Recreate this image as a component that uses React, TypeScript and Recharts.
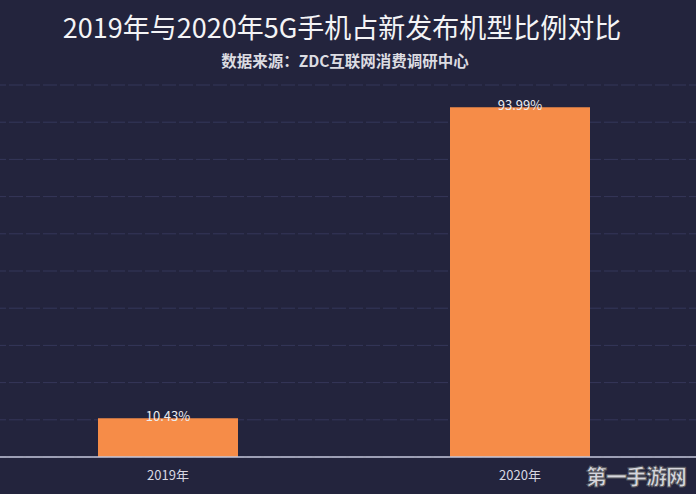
import React from "react";
import { BarChart, Bar, XAxis, YAxis, CartesianGrid, LabelList } from "recharts";

const categories = ["2019年", "2020年"];
const shares = [10.43, 93.99];
const yTicks = [0, 10, 20, 30, 40, 50, 60, 70, 80, 90, 100];

const data = categories.map((c, i) => ({ name: c, value: shares[i] }));

const FONT = "'Noto Sans CJK SC', 'Noto Sans', sans-serif";

export default function App() {
  return (
    <div
      style={{
        position: "absolute",
        left: 0,
        top: 0,
        width: 696,
        height: 494,
        background: "#23243d",
        overflow: "hidden",
        fontFamily: FONT,
      }}
    >
      <div
        style={{
          position: "absolute",
          left: 0,
          width: 684,
          top: 8,
          textAlign: "center",
          fontSize: 27,
          color: "#f4f4f6",
          lineHeight: "38px",
        }}
      >
        2019年与2020年5G手机占新发布机型比例对比
      </div>
      <div
        style={{
          position: "absolute",
          left: 0,
          width: 690,
          top: 50,
          textAlign: "center",
          fontSize: 15.5,
          fontWeight: 700,
          color: "#dcdce2",
          lineHeight: "20px",
        }}
      >
        数据来源：ZDC互联网消费调研中心
      </div>
      <BarChart
        width={696}
        height={494}
        data={data}
        margin={{ top: 85, right: 0, bottom: 7, left: -8 }}
        barSize={140}
      >
        <CartesianGrid
          vertical={false}
          stroke="#35375a"
          strokeDasharray="14 3"
        />
        <YAxis hide domain={[0, 100]} ticks={yTicks} />
        <XAxis
          dataKey="name"
          height={30}
          axisLine={{ stroke: "#c4c6d8", strokeWidth: 1.5 }}
          tickLine={false}
          tick={{ fill: "#d8d8e2", fontSize: 13, fontFamily: FONT }}
          tickMargin={8}
        />
        <Bar dataKey="value" fill="#f68c48" isAnimationActive={false}>
          <LabelList
            dataKey="value"
            position="top"
            offset={-3}
            formatter={(v: number) => `${v}%`}
            style={{ fill: "#ececf0", fontSize: 13, fontFamily: FONT }}
          />
        </Bar>
      </BarChart>
      <div
        style={{
          position: "absolute",
          left: 586,
          top: 462,
          fontSize: 21,
          fontWeight: 900,
          color: "#d6d6dc",
          letterSpacing: -1,
          WebkitTextStroke: "1px #55565e",
          lineHeight: "26px",
        }}
      >
        第一手游网
      </div>
    </div>
  );
}
